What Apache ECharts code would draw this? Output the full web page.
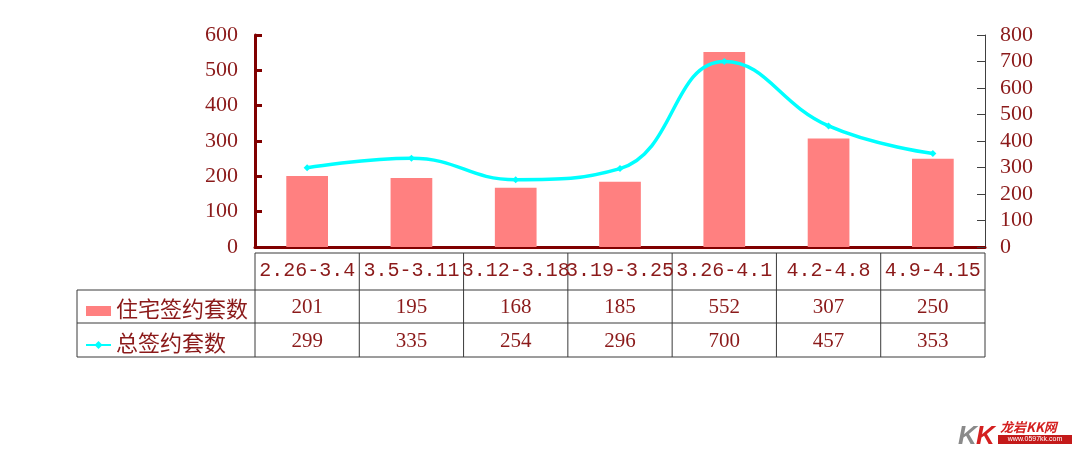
<!DOCTYPE html>
<html><head><meta charset="utf-8">
<script src="https://cdn.jsdelivr.net/npm/echarts@6/dist/echarts.min.js"></script>
<style>html,body{margin:0;padding:0;background:#fff}#c{width:1080px;height:461px}</style>
</head><body><div id="c"></div>
<script>
const categories = ['2.26-3.4','3.5-3.11','3.12-3.18','3.19-3.25','3.26-4.1','4.2-4.8','4.9-4.15'];
const residential = [201,195,168,185,552,307,250];
const total = [299,335,254,296,700,457,353];
const seriesNames = ['住宅签约套数','总签约套数'];
const leftAxis = {min:0,max:600,interval:100};
const rightAxis = {min:0,max:800,interval:100};

const textColor = '#8B1A1A';
const serif = '"Liberation Serif","Noto Sans CJK SC",serif';
const chart = echarts.init(document.getElementById('c'));
const gridL = 255, gridR = 95, gridT = 35, gridB = 214;
chart.setOption({
  animation:false,
  backgroundColor:'#fff',
  grid:{left:gridL,right:gridR,top:gridT,bottom:gridB},
  legend:{
    orient:'vertical',left:80,top:294,itemGap:10,itemWidth:25,itemHeight:10,
    textStyle:{fontSize:22,lineHeight:24,color:textColor,fontFamily:serif},
    data:[{name:seriesNames[0],icon:'rect'},{name:seriesNames[1]}]
  },
  xAxis:{
    type:'category',data:categories,
    axisLine:{lineStyle:{color:'#800000',width:3}},
    axisTick:{show:false},
    axisLabel:{margin:14,fontSize:20,color:textColor,fontFamily:'"Liberation Mono",monospace',interval:0}
  },
  yAxis:[
    {type:'value',min:leftAxis.min,max:leftAxis.max,interval:leftAxis.interval,
     axisLine:{show:true,lineStyle:{color:'#800000',width:3}},
     axisTick:{show:true,inside:true,length:7,lineStyle:{color:'#800000',width:3}},
     axisLabel:{margin:17,fontSize:22,color:textColor,fontFamily:serif},
     splitLine:{show:false}},
    {type:'value',min:rightAxis.min,max:rightAxis.max,interval:rightAxis.interval,position:'right',
     axisLine:{show:true,lineStyle:{color:'#404040',width:1}},
     axisTick:{show:true,inside:true,length:8,lineStyle:{color:'#404040',width:1}},
     axisLabel:{margin:15,fontSize:22,color:textColor,fontFamily:serif},
     splitLine:{show:false}}
  ],
  series:[
    {name:seriesNames[0],type:'bar',data:residential,yAxisIndex:0,barWidth:'40%',
     itemStyle:{color:'#FF8080'}},
    {name:seriesNames[1],type:'line',data:total,yAxisIndex:1,smooth:0.45,
     symbol:'diamond',symbolSize:7,
     lineStyle:{color:'#00FFFF',width:3.5},itemStyle:{color:'#00FFFF'}}
  ]
});

// data table built from the arrays
const c0 = chart.convertToPixel({xAxisIndex:0}, 0);
const c1 = chart.convertToPixel({xAxisIndex:0}, 1);
const band = c1 - c0;
const leftEdge = c0 - band/2;
const rightEdge = leftEdge + band*categories.length;
const yTop = 253, yR1 = 290, yR2 = 323, yBot = 357, tableLeft = 77;
const lineStyle = {stroke:'#3a3a3a',lineWidth:1};
const g = [];
g.push({type:'line',shape:{x1:leftEdge,y1:yTop,x2:rightEdge,y2:yTop},style:lineStyle,silent:true});
[yR1,yR2,yBot].forEach(y=>g.push({type:'line',shape:{x1:tableLeft,y1:y,x2:rightEdge,y2:y},style:lineStyle,silent:true}));
g.push({type:'line',shape:{x1:tableLeft,y1:yR1,x2:tableLeft,y2:yBot},style:lineStyle,silent:true});
for(let i=0;i<=categories.length;i++){
  const x = leftEdge + band*i;
  g.push({type:'line',shape:{x1:x,y1:yTop,x2:x,y2:yBot},style:lineStyle,silent:true});
}
[residential,total].forEach((arr,r)=>{
  const yc = r===0 ? (yR1+yR2)/2 : (yR2+yBot)/2;
  arr.forEach((v,i)=>{
    g.push({type:'text',x:chart.convertToPixel({xAxisIndex:0}, i),y:yc+1,
      style:{text:String(v),fill:textColor,font:'21px '+serif,align:'center',verticalAlign:'middle'},silent:true});
  });
});
// watermark logo
g.push({type:'text',x:958,y:437,style:{text:'K',fill:'#8a8a8a',font:'italic bold 26px "Liberation Sans"',verticalAlign:'middle'}});
g.push({type:'text',x:976,y:437,style:{text:'K',fill:'#d42020',font:'italic bold 26px "Liberation Sans"',verticalAlign:'middle'}});
g.push({type:'text',x:1000,y:427,style:{text:'龙岩KK网',fill:'#d42020',font:'italic bold 13px "Noto Sans CJK SC"',verticalAlign:'middle'}});
g.push({type:'rect',shape:{x:998,y:435,width:74,height:9},style:{fill:'#c41a1a'}});
g.push({type:'text',x:1035,y:439.5,style:{text:'www.0597kk.com',fill:'#fff',font:'7px "Liberation Sans"',align:'center',verticalAlign:'middle'}});
chart.setOption({graphic:g});
</script></body></html>
